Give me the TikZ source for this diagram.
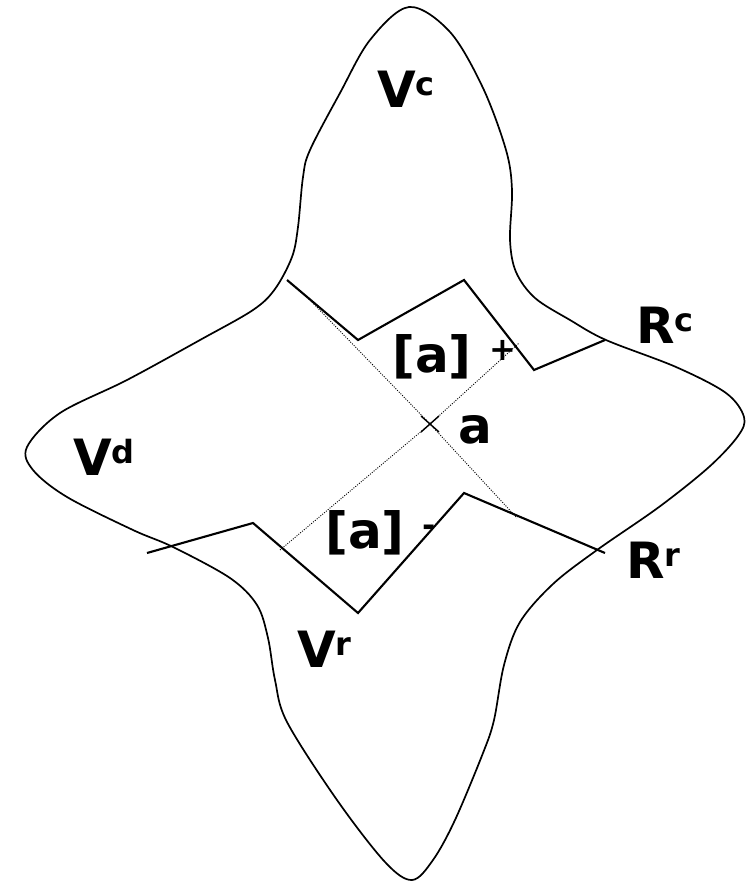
\documentclass[tikz,border=0pt]{standalone}
\usepackage{fontspec}
\setmainfont{DejaVu Sans}
\newcommand{\upidx}[1]{\raisebox{12pt}{\fontsize{32}{32}\selectfont #1}}

\begin{document}
\begin{tikzpicture}[x=1pt,y=-1pt,
          lbl/.style={anchor=base west,inner sep=0pt,
            font=\fontsize{50}{50}\selectfont\bfseries},
          rim/.style={line width=1.7pt},
          cut/.style={line width=2.1pt,line join=miter},
          axis/.style={line width=0.9pt,dash pattern=on 1pt off 1.4pt}]
        \useasboundingbox (0,0) rectangle (752,882);

        % outline of the four lobes
        \draw[rim] plot[smooth cycle,tension=0.55] coordinates {
          (409,7) (450,32) (483,88) (506,150) (512,190) (510,240)
          (516,272) (535,298) (570,320) (606,340) (676,367) (726,393)
          (744,417) (738,436) (709,467) (659,507) (597,550) (553,584)
          (520,622) (504,665) (494,720) (483,753) (455,820) (433,860)
          (412,880) (385,862) (337,800) (287,722) (275,680) (268,638)
          (257,605) (230,578) (173,547) (133,530) (67,497) (33,470)
          (27,447) (60,413) (127,380) (200,340) (253,310) (275,289)
          (292,257) (298,227) (303,177) (310,150) (340,93) (370,40)};

        % the two cuts
        \draw[cut] (287,280) -- (358,340) -- (464,280) -- (534,370) -- (605,340);
        \draw[cut] (147,553) -- (253,523) -- (358,613) -- (464,493) -- (605,553);

        % axes through a
        \coordinate (pt) at (430,424);
        \coordinate (d1a) at (307,297);
        \coordinate (d1b) at (517,518);
        \coordinate (d2a) at (280,550);
        \coordinate (d2b) at (519,343);
        \draw[axis] (d1a) -- (pt) -- (d1b);
        \draw[axis] (d2a) -- (pt) -- (d2b);
        \draw[line width=1.4pt] ([shift={(-9,-8)}]pt) -- ([shift={(9,8)}]pt)
          ([shift={(-9,8)}]pt) -- ([shift={(9,-8)}]pt);

        \node[lbl] (vc) at (377,108) {V\upidx{c}};
        \node[lbl] (vd) at (73,475) {V\upidx{d}};
        \node[lbl] (vr) at (297,667) {V\upidx{r}};
        \node[lbl] (rc) at (636,343) {R\upidx{c}};
        \node[lbl] (rr) at (626,578) {R\upidx{r}};
        \node[lbl] (a) at (458,443) {a};
        \node[lbl] (aplus) at (392,372) {[a] \upidx{+}};
        \node[lbl] (aminus) at (325,548) {[a] \upidx{-}};

      \end{tikzpicture}
\end{document}
